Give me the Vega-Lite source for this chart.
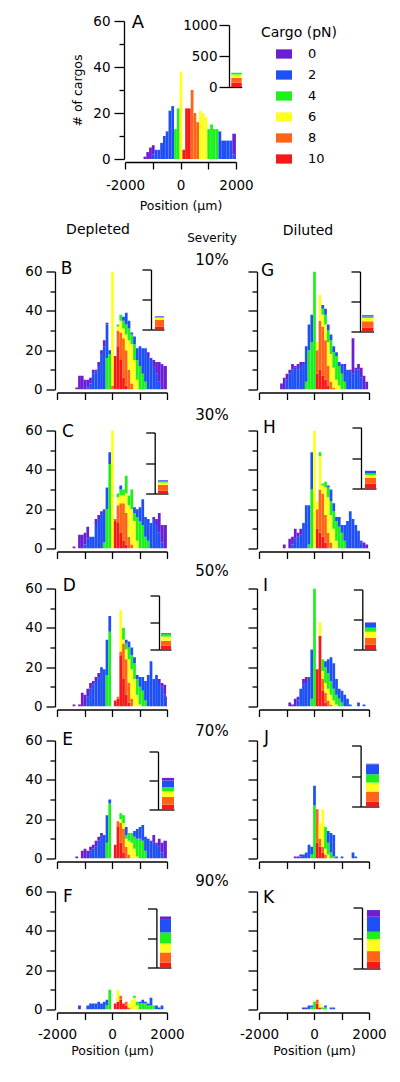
{
"$schema": "https://vega.github.io/schema/vega-lite/v6.json",
"padding": {"left": 24, "top": 14, "right": 0, "bottom": 0},
"config": {
 "font": "DejaVu Sans",
 "view": {"stroke": null},
 "bar": {"binSpacing": 0},
 "axis": {"domainColor": "#000", "tickColor": "#000", "labelColor": "#000", "titleColor": "#000", "labelFont": "DejaVu Sans", "titleFont": "DejaVu Sans", "labelFontSize": 13.5, "titleFontSize": 12.5, "titleFontWeight": "normal", "grid": false, "domainWidth": 1.3, "tickWidth": 1.3, "labelFlush": false, "labelOverlap": false},
 "title": {"font": "DejaVu Sans", "fontWeight": "normal", "color": "#000", "subtitleFont": "DejaVu Sans", "subtitleColor": "#000"},
 "legend": {"titleFont": "DejaVu Sans", "labelFont": "DejaVu Sans"},
 "text": {"font": "DejaVu Sans", "color": "#000"}
},
"datasets": {
 "h": [
{"p":"A","x":-1350,"f":0,"n":1},{"p":"A","x":-1250,"f":0,"n":3},{"p":"A","x":-1150,"f":0,"n":5},{"p":"A","x":-1050,"f":2,"n":2},{"p":"A","x":-1050,"f":0,"n":4},{"p":"A","x":-950,"f":2,"n":4},{"p":"A","x":-850,"f":2,"n":4},{"p":"A","x":-750,"f":2,"n":7},{"p":"A","x":-650,"f":2,"n":10},{"p":"A","x":-550,"f":2,"n":12},{"p":"A","x":-450,"f":2,"n":21},{"p":"A","x":-350,"f":2,"n":23},{"p":"A","x":-250,"f":4,"n":13},{"p":"A","x":-150,"f":4,"n":22},{"p":"A","x":-50,"f":6,"n":38},{"p":"A","x":50,"f":10,"n":4},{"p":"A","x":150,"f":10,"n":22},{"p":"A","x":250,"f":10,"n":22},{"p":"A","x":350,"f":8,"n":30},{"p":"A","x":450,"f":8,"n":20},{"p":"A","x":550,"f":8,"n":16},{"p":"A","x":650,"f":6,"n":21},{"p":"A","x":750,"f":6,"n":20},{"p":"A","x":850,"f":6,"n":18},{"p":"A","x":950,"f":4,"n":13},{"p":"A","x":1050,"f":4,"n":15},{"p":"A","x":1150,"f":4,"n":13},{"p":"A","x":1250,"f":4,"n":13},{"p":"A","x":1350,"f":2,"n":12},{"p":"A","x":1450,"f":2,"n":8},{"p":"A","x":1550,"f":2,"n":8},{"p":"A","x":1650,"f":2,"n":8},{"p":"A","x":1750,"f":2,"n":8},{"p":"A","x":1850,"f":2,"n":2},{"p":"A","x":1850,"f":0,"n":9},{"p":"A","x":1950,"f":0,"n":11},
{"p":"B","x":-1350,"f":0,"n":1},{"p":"B","x":-1250,"f":0,"n":7},{"p":"B","x":-1150,"f":0,"n":7},{"p":"B","x":-1050,"f":0,"n":5},{"p":"B","x":-950,"f":2,"n":1},{"p":"B","x":-950,"f":0,"n":4},{"p":"B","x":-850,"f":2,"n":3},{"p":"B","x":-850,"f":0,"n":3},{"p":"B","x":-750,"f":2,"n":8},{"p":"B","x":-750,"f":0,"n":2},{"p":"B","x":-650,"f":2,"n":9},{"p":"B","x":-650,"f":0,"n":1},{"p":"B","x":-550,"f":2,"n":12},{"p":"B","x":-550,"f":0,"n":2},{"p":"B","x":-450,"f":2,"n":18},{"p":"B","x":-450,"f":0,"n":2},{"p":"B","x":-350,"f":2,"n":22},{"p":"B","x":-350,"f":0,"n":3},{"p":"B","x":-250,"f":4,"n":16},{"p":"B","x":-250,"f":2,"n":17},{"p":"B","x":-250,"f":0,"n":1},{"p":"B","x":-150,"f":4,"n":18},{"p":"B","x":-150,"f":2,"n":2},{"p":"B","x":-50,"f":8,"n":2},{"p":"B","x":-50,"f":6,"n":58},{"p":"B","x":50,"f":10,"n":17},{"p":"B","x":150,"f":10,"n":22},{"p":"B","x":150,"f":8,"n":8},{"p":"B","x":150,"f":6,"n":2},{"p":"B","x":150,"f":4,"n":1},{"p":"B","x":250,"f":10,"n":15},{"p":"B","x":250,"f":8,"n":14},{"p":"B","x":250,"f":6,"n":6},{"p":"B","x":250,"f":4,"n":3},{"p":"B","x":350,"f":10,"n":6},{"p":"B","x":350,"f":8,"n":20},{"p":"B","x":350,"f":6,"n":5},{"p":"B","x":350,"f":4,"n":4},{"p":"B","x":350,"f":2,"n":2},{"p":"B","x":450,"f":10,"n":2},{"p":"B","x":450,"f":8,"n":18},{"p":"B","x":450,"f":6,"n":8},{"p":"B","x":450,"f":4,"n":5},{"p":"B","x":450,"f":2,"n":6},{"p":"B","x":550,"f":8,"n":10},{"p":"B","x":550,"f":6,"n":15},{"p":"B","x":550,"f":4,"n":6},{"p":"B","x":550,"f":2,"n":4},{"p":"B","x":650,"f":8,"n":3},{"p":"B","x":650,"f":6,"n":20},{"p":"B","x":650,"f":4,"n":5},{"p":"B","x":650,"f":2,"n":1},{"p":"B","x":750,"f":6,"n":15},{"p":"B","x":750,"f":4,"n":8},{"p":"B","x":750,"f":2,"n":4},{"p":"B","x":850,"f":6,"n":5},{"p":"B","x":850,"f":4,"n":10},{"p":"B","x":850,"f":2,"n":6},{"p":"B","x":950,"f":4,"n":12},{"p":"B","x":950,"f":2,"n":10},{"p":"B","x":1050,"f":4,"n":8},{"p":"B","x":1050,"f":2,"n":13},{"p":"B","x":1150,"f":4,"n":4},{"p":"B","x":1150,"f":2,"n":17},{"p":"B","x":1250,"f":2,"n":17},{"p":"B","x":1250,"f":0,"n":2},{"p":"B","x":1350,"f":2,"n":15},{"p":"B","x":1350,"f":0,"n":1},{"p":"B","x":1450,"f":2,"n":12},{"p":"B","x":1450,"f":0,"n":3},{"p":"B","x":1550,"f":2,"n":8},{"p":"B","x":1550,"f":0,"n":6},{"p":"B","x":1650,"f":2,"n":4},{"p":"B","x":1650,"f":0,"n":10},{"p":"B","x":1750,"f":0,"n":13},{"p":"B","x":1850,"f":0,"n":12},{"p":"B","x":1950,"f":0,"n":12},
{"p":"G","x":-1250,"f":0,"n":3},{"p":"G","x":-1150,"f":0,"n":6},{"p":"G","x":-1050,"f":2,"n":5},{"p":"G","x":-1050,"f":0,"n":3},{"p":"G","x":-950,"f":2,"n":8},{"p":"G","x":-950,"f":0,"n":2},{"p":"G","x":-850,"f":2,"n":10},{"p":"G","x":-850,"f":0,"n":3},{"p":"G","x":-750,"f":2,"n":11},{"p":"G","x":-750,"f":0,"n":1},{"p":"G","x":-650,"f":2,"n":10},{"p":"G","x":-650,"f":0,"n":3},{"p":"G","x":-550,"f":2,"n":12},{"p":"G","x":-550,"f":0,"n":2},{"p":"G","x":-450,"f":2,"n":13},{"p":"G","x":-450,"f":0,"n":1},{"p":"G","x":-350,"f":4,"n":4},{"p":"G","x":-350,"f":2,"n":18},{"p":"G","x":-250,"f":4,"n":20},{"p":"G","x":-250,"f":2,"n":13},{"p":"G","x":-150,"f":4,"n":24},{"p":"G","x":-150,"f":2,"n":14},{"p":"G","x":-50,"f":4,"n":60},{"p":"G","x":50,"f":10,"n":8},{"p":"G","x":50,"f":8,"n":12},{"p":"G","x":50,"f":6,"n":4},{"p":"G","x":150,"f":10,"n":10},{"p":"G","x":150,"f":8,"n":25},{"p":"G","x":150,"f":6,"n":13},{"p":"G","x":250,"f":10,"n":7},{"p":"G","x":250,"f":8,"n":25},{"p":"G","x":250,"f":6,"n":6},{"p":"G","x":250,"f":4,"n":3},{"p":"G","x":250,"f":2,"n":2},{"p":"G","x":350,"f":10,"n":5},{"p":"G","x":350,"f":8,"n":20},{"p":"G","x":350,"f":6,"n":8},{"p":"G","x":350,"f":4,"n":5},{"p":"G","x":350,"f":2,"n":3},{"p":"G","x":450,"f":10,"n":2},{"p":"G","x":450,"f":8,"n":10},{"p":"G","x":450,"f":6,"n":12},{"p":"G","x":450,"f":4,"n":6},{"p":"G","x":450,"f":2,"n":3},{"p":"G","x":550,"f":8,"n":4},{"p":"G","x":550,"f":6,"n":14},{"p":"G","x":550,"f":4,"n":7},{"p":"G","x":550,"f":2,"n":3},{"p":"G","x":650,"f":8,"n":1},{"p":"G","x":650,"f":6,"n":10},{"p":"G","x":650,"f":4,"n":8},{"p":"G","x":650,"f":2,"n":3},{"p":"G","x":750,"f":6,"n":5},{"p":"G","x":750,"f":4,"n":12},{"p":"G","x":750,"f":2,"n":2},{"p":"G","x":850,"f":6,"n":2},{"p":"G","x":850,"f":4,"n":10},{"p":"G","x":850,"f":2,"n":2},{"p":"G","x":950,"f":4,"n":8},{"p":"G","x":950,"f":2,"n":5},{"p":"G","x":1050,"f":4,"n":4},{"p":"G","x":1050,"f":2,"n":8},{"p":"G","x":1050,"f":0,"n":1},{"p":"G","x":1150,"f":2,"n":10},{"p":"G","x":1250,"f":2,"n":9},{"p":"G","x":1250,"f":0,"n":1},{"p":"G","x":1350,"f":2,"n":8},{"p":"G","x":1350,"f":0,"n":18},{"p":"G","x":1450,"f":2,"n":10},{"p":"G","x":1450,"f":0,"n":1},{"p":"G","x":1550,"f":2,"n":10},{"p":"G","x":1550,"f":0,"n":3},{"p":"G","x":1650,"f":2,"n":6},{"p":"G","x":1650,"f":0,"n":5},{"p":"G","x":1750,"f":0,"n":7},{"p":"G","x":1850,"f":0,"n":4},
{"p":"C","x":-1450,"f":0,"n":1},{"p":"C","x":-1250,"f":0,"n":7},{"p":"C","x":-1150,"f":0,"n":7},{"p":"C","x":-1050,"f":2,"n":2},{"p":"C","x":-1050,"f":0,"n":6},{"p":"C","x":-950,"f":2,"n":5},{"p":"C","x":-950,"f":0,"n":6},{"p":"C","x":-850,"f":2,"n":6},{"p":"C","x":-750,"f":2,"n":6},{"p":"C","x":-650,"f":2,"n":12},{"p":"C","x":-650,"f":0,"n":3},{"p":"C","x":-550,"f":2,"n":15},{"p":"C","x":-550,"f":0,"n":2},{"p":"C","x":-450,"f":2,"n":18},{"p":"C","x":-450,"f":0,"n":1},{"p":"C","x":-350,"f":4,"n":3},{"p":"C","x":-350,"f":2,"n":17},{"p":"C","x":-250,"f":4,"n":20},{"p":"C","x":-250,"f":2,"n":11},{"p":"C","x":-150,"f":4,"n":43},{"p":"C","x":-150,"f":2,"n":6},{"p":"C","x":-50,"f":6,"n":60},{"p":"C","x":50,"f":10,"n":14},{"p":"C","x":50,"f":8,"n":1},{"p":"C","x":150,"f":10,"n":13},{"p":"C","x":150,"f":8,"n":9},{"p":"C","x":150,"f":6,"n":4},{"p":"C","x":150,"f":4,"n":2},{"p":"C","x":250,"f":10,"n":8},{"p":"C","x":250,"f":8,"n":15},{"p":"C","x":250,"f":6,"n":4},{"p":"C","x":250,"f":4,"n":3},{"p":"C","x":250,"f":2,"n":2},{"p":"C","x":350,"f":10,"n":4},{"p":"C","x":350,"f":8,"n":19},{"p":"C","x":350,"f":6,"n":4},{"p":"C","x":350,"f":4,"n":3},{"p":"C","x":450,"f":10,"n":2},{"p":"C","x":450,"f":8,"n":16},{"p":"C","x":450,"f":6,"n":10},{"p":"C","x":450,"f":4,"n":9},{"p":"C","x":550,"f":8,"n":6},{"p":"C","x":550,"f":6,"n":16},{"p":"C","x":550,"f":4,"n":5},{"p":"C","x":650,"f":8,"n":2},{"p":"C","x":650,"f":6,"n":18},{"p":"C","x":650,"f":4,"n":10},{"p":"C","x":750,"f":6,"n":14},{"p":"C","x":750,"f":4,"n":4},{"p":"C","x":750,"f":2,"n":3},{"p":"C","x":850,"f":6,"n":4},{"p":"C","x":850,"f":4,"n":12},{"p":"C","x":850,"f":2,"n":4},{"p":"C","x":950,"f":4,"n":14},{"p":"C","x":950,"f":2,"n":7},{"p":"C","x":1050,"f":4,"n":12},{"p":"C","x":1050,"f":2,"n":13},{"p":"C","x":1150,"f":4,"n":6},{"p":"C","x":1150,"f":2,"n":10},{"p":"C","x":1250,"f":4,"n":4},{"p":"C","x":1250,"f":2,"n":11},{"p":"C","x":1350,"f":2,"n":13},{"p":"C","x":1450,"f":2,"n":15},{"p":"C","x":1450,"f":0,"n":1},{"p":"C","x":1550,"f":2,"n":12},{"p":"C","x":1550,"f":0,"n":3},{"p":"C","x":1650,"f":2,"n":8},{"p":"C","x":1650,"f":0,"n":10},{"p":"C","x":1750,"f":2,"n":3},{"p":"C","x":1750,"f":0,"n":9},{"p":"C","x":1850,"f":0,"n":12},{"p":"C","x":1950,"f":0,"n":12},
{"p":"H","x":-1150,"f":0,"n":2},{"p":"H","x":-950,"f":0,"n":5},{"p":"H","x":-850,"f":2,"n":2},{"p":"H","x":-850,"f":0,"n":4},{"p":"H","x":-750,"f":2,"n":5},{"p":"H","x":-750,"f":0,"n":5},{"p":"H","x":-650,"f":2,"n":6},{"p":"H","x":-650,"f":0,"n":2},{"p":"H","x":-550,"f":2,"n":7},{"p":"H","x":-550,"f":0,"n":3},{"p":"H","x":-450,"f":2,"n":13},{"p":"H","x":-350,"f":2,"n":22},{"p":"H","x":-250,"f":4,"n":2},{"p":"H","x":-250,"f":2,"n":20},{"p":"H","x":-150,"f":4,"n":30},{"p":"H","x":-150,"f":2,"n":19},{"p":"H","x":-50,"f":6,"n":60},{"p":"H","x":50,"f":10,"n":10},{"p":"H","x":50,"f":8,"n":10},{"p":"H","x":50,"f":6,"n":4},{"p":"H","x":150,"f":10,"n":8},{"p":"H","x":150,"f":8,"n":22},{"p":"H","x":150,"f":6,"n":17},{"p":"H","x":150,"f":4,"n":2},{"p":"H","x":250,"f":10,"n":6},{"p":"H","x":250,"f":8,"n":22},{"p":"H","x":250,"f":6,"n":4},{"p":"H","x":250,"f":4,"n":1},{"p":"H","x":350,"f":10,"n":3},{"p":"H","x":350,"f":8,"n":14},{"p":"H","x":350,"f":6,"n":14},{"p":"H","x":350,"f":4,"n":3},{"p":"H","x":450,"f":8,"n":8},{"p":"H","x":450,"f":6,"n":18},{"p":"H","x":450,"f":4,"n":5},{"p":"H","x":450,"f":2,"n":1},{"p":"H","x":550,"f":8,"n":3},{"p":"H","x":550,"f":6,"n":14},{"p":"H","x":550,"f":4,"n":7},{"p":"H","x":550,"f":2,"n":6},{"p":"H","x":650,"f":6,"n":10},{"p":"H","x":650,"f":4,"n":9},{"p":"H","x":650,"f":2,"n":4},{"p":"H","x":750,"f":6,"n":4},{"p":"H","x":750,"f":4,"n":10},{"p":"H","x":750,"f":2,"n":2},{"p":"H","x":850,"f":4,"n":11},{"p":"H","x":850,"f":2,"n":5},{"p":"H","x":950,"f":4,"n":8},{"p":"H","x":950,"f":2,"n":4},{"p":"H","x":1050,"f":4,"n":4},{"p":"H","x":1050,"f":2,"n":8},{"p":"H","x":1150,"f":2,"n":14},{"p":"H","x":1250,"f":2,"n":19},{"p":"H","x":1350,"f":2,"n":15},{"p":"H","x":1450,"f":2,"n":12},{"p":"H","x":1550,"f":2,"n":9},{"p":"H","x":1650,"f":2,"n":3},{"p":"H","x":1650,"f":0,"n":1},{"p":"H","x":1750,"f":0,"n":3},{"p":"H","x":1850,"f":0,"n":2},
{"p":"D","x":-1450,"f":0,"n":1},{"p":"D","x":-1250,"f":0,"n":1},{"p":"D","x":-1150,"f":0,"n":7},{"p":"D","x":-1050,"f":0,"n":6},{"p":"D","x":-950,"f":2,"n":5},{"p":"D","x":-950,"f":0,"n":4},{"p":"D","x":-850,"f":2,"n":9},{"p":"D","x":-850,"f":0,"n":3},{"p":"D","x":-750,"f":2,"n":11},{"p":"D","x":-750,"f":0,"n":2},{"p":"D","x":-650,"f":2,"n":13},{"p":"D","x":-650,"f":0,"n":2},{"p":"D","x":-550,"f":2,"n":15},{"p":"D","x":-550,"f":0,"n":2},{"p":"D","x":-450,"f":2,"n":20},{"p":"D","x":-350,"f":2,"n":19},{"p":"D","x":-250,"f":4,"n":16},{"p":"D","x":-250,"f":2,"n":18},{"p":"D","x":-150,"f":4,"n":38},{"p":"D","x":-150,"f":2,"n":8},{"p":"D","x":50,"f":10,"n":3},{"p":"D","x":150,"f":10,"n":4},{"p":"D","x":150,"f":8,"n":1},{"p":"D","x":250,"f":10,"n":26},{"p":"D","x":250,"f":8,"n":2},{"p":"D","x":250,"f":6,"n":21},{"p":"D","x":350,"f":10,"n":14},{"p":"D","x":350,"f":8,"n":18},{"p":"D","x":350,"f":6,"n":2},{"p":"D","x":350,"f":4,"n":6},{"p":"D","x":450,"f":10,"n":6},{"p":"D","x":450,"f":8,"n":18},{"p":"D","x":450,"f":6,"n":5},{"p":"D","x":450,"f":4,"n":3},{"p":"D","x":450,"f":2,"n":2},{"p":"D","x":550,"f":10,"n":2},{"p":"D","x":550,"f":8,"n":10},{"p":"D","x":550,"f":6,"n":12},{"p":"D","x":550,"f":4,"n":6},{"p":"D","x":550,"f":2,"n":3},{"p":"D","x":650,"f":8,"n":4},{"p":"D","x":650,"f":6,"n":15},{"p":"D","x":650,"f":4,"n":7},{"p":"D","x":650,"f":2,"n":4},{"p":"D","x":750,"f":6,"n":14},{"p":"D","x":750,"f":4,"n":8},{"p":"D","x":750,"f":2,"n":3},{"p":"D","x":850,"f":6,"n":6},{"p":"D","x":850,"f":4,"n":8},{"p":"D","x":850,"f":2,"n":2},{"p":"D","x":950,"f":6,"n":1},{"p":"D","x":950,"f":4,"n":9},{"p":"D","x":950,"f":2,"n":5},{"p":"D","x":1050,"f":4,"n":8},{"p":"D","x":1050,"f":2,"n":7},{"p":"D","x":1150,"f":4,"n":3},{"p":"D","x":1150,"f":2,"n":10},{"p":"D","x":1250,"f":2,"n":16},{"p":"D","x":1350,"f":2,"n":23},{"p":"D","x":1450,"f":2,"n":14},{"p":"D","x":1550,"f":2,"n":16},{"p":"D","x":1650,"f":2,"n":12},{"p":"D","x":1650,"f":0,"n":2},{"p":"D","x":1750,"f":2,"n":10},{"p":"D","x":1750,"f":0,"n":2},{"p":"D","x":1850,"f":2,"n":6},{"p":"D","x":1850,"f":0,"n":5},{"p":"D","x":1950,"f":0,"n":5},
{"p":"I","x":-950,"f":0,"n":2},{"p":"I","x":-850,"f":0,"n":1},{"p":"I","x":-750,"f":0,"n":4},{"p":"I","x":-650,"f":2,"n":3},{"p":"I","x":-650,"f":0,"n":2},{"p":"I","x":-550,"f":2,"n":9},{"p":"I","x":-450,"f":2,"n":11},{"p":"I","x":-450,"f":0,"n":3},{"p":"I","x":-350,"f":2,"n":12},{"p":"I","x":-350,"f":0,"n":3},{"p":"I","x":-250,"f":2,"n":15},{"p":"I","x":-150,"f":4,"n":4},{"p":"I","x":-150,"f":2,"n":25},{"p":"I","x":-50,"f":4,"n":60},{"p":"I","x":50,"f":10,"n":19},{"p":"I","x":150,"f":10,"n":36},{"p":"I","x":150,"f":6,"n":7},{"p":"I","x":250,"f":10,"n":8},{"p":"I","x":250,"f":8,"n":6},{"p":"I","x":250,"f":6,"n":4},{"p":"I","x":250,"f":4,"n":6},{"p":"I","x":350,"f":10,"n":2},{"p":"I","x":350,"f":8,"n":5},{"p":"I","x":350,"f":6,"n":5},{"p":"I","x":350,"f":4,"n":8},{"p":"I","x":350,"f":2,"n":3},{"p":"I","x":450,"f":8,"n":3},{"p":"I","x":450,"f":6,"n":6},{"p":"I","x":450,"f":4,"n":8},{"p":"I","x":450,"f":2,"n":7},{"p":"I","x":550,"f":8,"n":1},{"p":"I","x":550,"f":6,"n":5},{"p":"I","x":550,"f":4,"n":7},{"p":"I","x":550,"f":2,"n":12},{"p":"I","x":650,"f":6,"n":3},{"p":"I","x":650,"f":4,"n":6},{"p":"I","x":650,"f":2,"n":13},{"p":"I","x":750,"f":6,"n":1},{"p":"I","x":750,"f":4,"n":5},{"p":"I","x":750,"f":2,"n":8},{"p":"I","x":850,"f":4,"n":4},{"p":"I","x":850,"f":2,"n":5},{"p":"I","x":950,"f":4,"n":2},{"p":"I","x":950,"f":2,"n":6},{"p":"I","x":1050,"f":2,"n":6},{"p":"I","x":1150,"f":2,"n":4},{"p":"I","x":1250,"f":2,"n":1},{"p":"I","x":1550,"f":2,"n":2},{"p":"I","x":1750,"f":2,"n":1},
{"p":"E","x":-1350,"f":0,"n":1},{"p":"E","x":-1150,"f":0,"n":4},{"p":"E","x":-1050,"f":0,"n":5},{"p":"E","x":-950,"f":0,"n":4},{"p":"E","x":-850,"f":2,"n":4},{"p":"E","x":-850,"f":0,"n":2},{"p":"E","x":-750,"f":2,"n":5},{"p":"E","x":-750,"f":0,"n":2},{"p":"E","x":-650,"f":2,"n":6},{"p":"E","x":-650,"f":0,"n":3},{"p":"E","x":-550,"f":2,"n":9},{"p":"E","x":-550,"f":0,"n":2},{"p":"E","x":-450,"f":2,"n":12},{"p":"E","x":-450,"f":0,"n":1},{"p":"E","x":-350,"f":2,"n":12},{"p":"E","x":-250,"f":4,"n":8},{"p":"E","x":-250,"f":2,"n":14},{"p":"E","x":-150,"f":4,"n":28},{"p":"E","x":-150,"f":2,"n":2},{"p":"E","x":50,"f":10,"n":7},{"p":"E","x":150,"f":10,"n":16},{"p":"E","x":150,"f":8,"n":3},{"p":"E","x":250,"f":10,"n":8},{"p":"E","x":250,"f":8,"n":10},{"p":"E","x":250,"f":6,"n":2},{"p":"E","x":250,"f":4,"n":3},{"p":"E","x":350,"f":10,"n":3},{"p":"E","x":350,"f":8,"n":12},{"p":"E","x":350,"f":6,"n":3},{"p":"E","x":350,"f":4,"n":4},{"p":"E","x":450,"f":8,"n":6},{"p":"E","x":450,"f":6,"n":4},{"p":"E","x":450,"f":4,"n":2},{"p":"E","x":450,"f":2,"n":4},{"p":"E","x":550,"f":8,"n":2},{"p":"E","x":550,"f":6,"n":7},{"p":"E","x":550,"f":4,"n":4},{"p":"E","x":650,"f":6,"n":8},{"p":"E","x":650,"f":4,"n":5},{"p":"E","x":750,"f":6,"n":5},{"p":"E","x":750,"f":4,"n":6},{"p":"E","x":750,"f":2,"n":3},{"p":"E","x":850,"f":6,"n":1},{"p":"E","x":850,"f":4,"n":9},{"p":"E","x":850,"f":2,"n":5},{"p":"E","x":950,"f":4,"n":10},{"p":"E","x":950,"f":2,"n":6},{"p":"E","x":1050,"f":4,"n":9},{"p":"E","x":1050,"f":2,"n":8},{"p":"E","x":1150,"f":4,"n":4},{"p":"E","x":1150,"f":2,"n":7},{"p":"E","x":1250,"f":2,"n":10},{"p":"E","x":1350,"f":2,"n":9},{"p":"E","x":1450,"f":2,"n":8},{"p":"E","x":1450,"f":0,"n":4},{"p":"E","x":1550,"f":2,"n":7},{"p":"E","x":1550,"f":0,"n":1},{"p":"E","x":1650,"f":2,"n":6},{"p":"E","x":1650,"f":0,"n":4},{"p":"E","x":1750,"f":2,"n":3},{"p":"E","x":1750,"f":0,"n":5},{"p":"E","x":1850,"f":0,"n":9},{"p":"E","x":1950,"f":0,"n":9},
{"p":"J","x":-750,"f":0,"n":1},{"p":"J","x":-650,"f":0,"n":1},{"p":"J","x":-550,"f":2,"n":1},{"p":"J","x":-550,"f":0,"n":1},{"p":"J","x":-450,"f":2,"n":2},{"p":"J","x":-350,"f":2,"n":3},{"p":"J","x":-250,"f":2,"n":7},{"p":"J","x":-150,"f":4,"n":2},{"p":"J","x":-150,"f":2,"n":4},{"p":"J","x":-50,"f":4,"n":27},{"p":"J","x":-50,"f":2,"n":10},{"p":"J","x":50,"f":10,"n":8},{"p":"J","x":50,"f":8,"n":17},{"p":"J","x":150,"f":10,"n":6},{"p":"J","x":150,"f":8,"n":4},{"p":"J","x":150,"f":6,"n":8},{"p":"J","x":250,"f":10,"n":3},{"p":"J","x":250,"f":8,"n":3},{"p":"J","x":250,"f":6,"n":19},{"p":"J","x":350,"f":8,"n":2},{"p":"J","x":350,"f":6,"n":3},{"p":"J","x":350,"f":4,"n":11},{"p":"J","x":450,"f":6,"n":2},{"p":"J","x":450,"f":4,"n":6},{"p":"J","x":450,"f":2,"n":6},{"p":"J","x":550,"f":4,"n":3},{"p":"J","x":550,"f":2,"n":10},{"p":"J","x":650,"f":4,"n":1},{"p":"J","x":650,"f":2,"n":11},{"p":"J","x":750,"f":2,"n":1},{"p":"J","x":950,"f":2,"n":1},{"p":"J","x":1350,"f":2,"n":3},{"p":"J","x":1450,"f":2,"n":1},
{"p":"F","x":-1250,"f":0,"n":2},{"p":"F","x":-950,"f":2,"n":2},{"p":"F","x":-850,"f":2,"n":3},{"p":"F","x":-750,"f":2,"n":3},{"p":"F","x":-650,"f":2,"n":3},{"p":"F","x":-550,"f":2,"n":4},{"p":"F","x":-450,"f":2,"n":3},{"p":"F","x":-350,"f":2,"n":4},{"p":"F","x":-250,"f":4,"n":2},{"p":"F","x":-250,"f":2,"n":3},{"p":"F","x":-150,"f":4,"n":10},{"p":"F","x":50,"f":10,"n":3},{"p":"F","x":150,"f":10,"n":4},{"p":"F","x":150,"f":6,"n":6},{"p":"F","x":250,"f":10,"n":5},{"p":"F","x":250,"f":8,"n":2},{"p":"F","x":350,"f":10,"n":3},{"p":"F","x":450,"f":10,"n":2},{"p":"F","x":450,"f":8,"n":2},{"p":"F","x":550,"f":8,"n":1},{"p":"F","x":550,"f":6,"n":2},{"p":"F","x":650,"f":6,"n":5},{"p":"F","x":750,"f":6,"n":6},{"p":"F","x":750,"f":4,"n":1},{"p":"F","x":850,"f":6,"n":2},{"p":"F","x":850,"f":4,"n":2},{"p":"F","x":950,"f":4,"n":3},{"p":"F","x":950,"f":2,"n":1},{"p":"F","x":1050,"f":4,"n":3},{"p":"F","x":1050,"f":2,"n":2},{"p":"F","x":1150,"f":4,"n":3},{"p":"F","x":1150,"f":2,"n":1},{"p":"F","x":1250,"f":4,"n":2},{"p":"F","x":1250,"f":2,"n":1},{"p":"F","x":1350,"f":4,"n":2},{"p":"F","x":1350,"f":2,"n":4},{"p":"F","x":1450,"f":4,"n":2},{"p":"F","x":1550,"f":2,"n":2},{"p":"F","x":1650,"f":2,"n":1},{"p":"F","x":1750,"f":2,"n":2},
{"p":"K","x":-450,"f":0,"n":1},{"p":"K","x":-350,"f":2,"n":1},{"p":"K","x":-250,"f":2,"n":2},{"p":"K","x":-150,"f":4,"n":1},{"p":"K","x":-150,"f":2,"n":1},{"p":"K","x":-50,"f":4,"n":4},{"p":"K","x":50,"f":10,"n":3},{"p":"K","x":50,"f":8,"n":2},{"p":"K","x":150,"f":10,"n":1},{"p":"K","x":150,"f":6,"n":2},{"p":"K","x":250,"f":4,"n":1},{"p":"K","x":350,"f":4,"n":1},{"p":"K","x":350,"f":2,"n":1},{"p":"K","x":550,"f":2,"n":1},{"p":"K","x":650,"f":2,"n":1}
 ],
 "t": [
{"p":"A","f":10,"n":70},{"p":"A","f":8,"n":80},{"p":"A","f":6,"n":50},{"p":"A","f":4,"n":30},
{"p":"B","f":10,"n":45},{"p":"B","f":8,"n":120},{"p":"B","f":6,"n":30},{"p":"B","f":4,"n":15},{"p":"B","f":2,"n":10},{"p":"B","f":0,"n":3},
{"p":"G","f":10,"n":60},{"p":"G","f":8,"n":110},{"p":"G","f":6,"n":55},{"p":"G","f":4,"n":25},{"p":"G","f":2,"n":20},{"p":"G","f":0,"n":5},
{"p":"C","f":10,"n":45},{"p":"C","f":8,"n":95},{"p":"C","f":6,"n":40},{"p":"C","f":4,"n":25},{"p":"C","f":2,"n":10},{"p":"C","f":0,"n":5},
{"p":"H","f":10,"n":80},{"p":"H","f":8,"n":100},{"p":"H","f":6,"n":40},{"p":"H","f":4,"n":27},{"p":"H","f":2,"n":40},{"p":"H","f":0,"n":3},
{"p":"D","f":10,"n":75},{"p":"D","f":8,"n":85},{"p":"D","f":6,"n":80},{"p":"D","f":4,"n":45},{"p":"D","f":2,"n":15},{"p":"D","f":0,"n":5},
{"p":"I","f":10,"n":84},{"p":"I","f":8,"n":112},{"p":"I","f":6,"n":100},{"p":"I","f":4,"n":67},{"p":"I","f":2,"n":84},{"p":"I","f":0,"n":5},
{"p":"E","f":10,"n":85},{"p":"E","f":8,"n":130},{"p":"E","f":6,"n":97},{"p":"E","f":4,"n":74},{"p":"E","f":2,"n":114},{"p":"E","f":0,"n":45},
{"p":"J","f":10,"n":82},{"p":"J","f":8,"n":163},{"p":"J","f":6,"n":147},{"p":"J","f":4,"n":136},{"p":"J","f":2,"n":163},{"p":"J","f":0,"n":10},
{"p":"F","f":10,"n":85},{"p":"F","f":8,"n":170},{"p":"F","f":6,"n":153},{"p":"F","f":4,"n":186},{"p":"F","f":2,"n":227},{"p":"F","f":0,"n":44},
{"p":"K","f":10,"n":110},{"p":"K","f":8,"n":175},{"p":"K","f":6,"n":197},{"p":"K","f":4,"n":120},{"p":"K","f":2,"n":246},{"p":"K","f":0,"n":110}
 ]
},
"resolve": {"scale": {"color": "independent"}, "legend": {"color": "independent"}},
"spacing": 10.5,
"vconcat": [
 {"hconcat": [
  {"width": 14, "height": 10, "data": {"values": []}, "mark": "point"},
  {"width": 111, "height": 138,
   "layer": [
    {"data": {"name": "h"}, "transform": [{"filter": "datum.p == 'A'"}], "mark": {"type": "bar", "clip": true},
     "encoding": {
      "x": {"field": "x", "type": "quantitative", "bin": {"binned": true, "step": 100}, "scale": {"domain": [-2000, 2000], "nice": false, "zero": false}, "axis": {"orient": "bottom", "offset": 3, "values": [-2000, -1000, 0, 1000, 2000], "tickSize": 7, "labelPadding": 9, "labelExpr": "datum.value % 2000 == 0 ? '' + datum.value : ''", "title": "Position (µm)", "titlePadding": 8}},
      "y": {"field": "n", "type": "quantitative", "stack": "zero", "scale": {"domain": [0, 60], "nice": false}, "axis": {"orient": "left", "offset": 1, "values": [0, 10, 20, 30, 40, 50, 60], "tickSize": {"condition": {"test": "datum.value % 20 == 0", "value": 10}, "value": 5}, "labelPadding": 4, "labelExpr": "datum.value % 20 == 0 ? datum.label : ''", "title": "# of cargos", "titlePadding": 8}},
      "color": {"field": "f", "type": "nominal", "scale": {"domain": [0, 2, 4, 6, 8, 10], "range": ["#6B1ED2", "#1E50F5", "#1EF01E", "#FFFF1E", "#FF6419", "#F51919"]},
       "legend": {"title": "Cargo (pN)", "orient": "none", "legendX": 136, "legendY": 5, "titleFontSize": 14, "titleFontWeight": "normal", "titleColor": "#000", "titlePadding": 6, "labelFontSize": 13, "labelColor": "#000", "labelOffset": 16, "symbolType": "M-1,-0.58H1V0.58H-1Z", "symbolSize": 256, "symbolOffset": 15, "symbolStrokeWidth": 0, "rowPadding": 6}},
      "order": {"field": "f", "type": "quantitative", "sort": "descending"}
     }},
    {"data": {"values": [{"t": "A"}]}, "mark": {"type": "text", "align": "left", "baseline": "alphabetic", "fontSize": 18},
     "encoding": {"text": {"field": "t"}, "x": {"datum": -1760, "type": "quantitative", "scale": {"domain": [-2000, 2000]}, "axis": null}, "y": {"datum": 56.8, "type": "quantitative", "scale": {"domain": [0, 60]}, "axis": null}}},
    {"data": {"name": "t"}, "transform": [{"filter": "datum.p == 'A'"}], "mark": "bar",
     "encoding": {
      "x": {"field": "p", "type": "nominal", "scale": {"range": [104, 116.7], "paddingInner": 0, "paddingOuter": 0.11, "align": 1}, "axis": {"orient": "bottom", "offset": -72, "ticks": false, "labels": false, "title": null}},
      "y": {"field": "n", "type": "quantitative", "stack": "zero", "scale": {"domain": [0, 1000], "range": [66, 4], "nice": false}, "axis": {"orient": "left", "offset": -104, "values": [0, 500, 1000], "tickSize": 10, "labelPadding": 2, "format": "d", "title": null}},
      "color": {"field": "f", "type": "nominal", "scale": {"domain": [0, 2, 4, 6, 8, 10], "range": ["#6B1ED2", "#1E50F5", "#1EF01E", "#FFFF1E", "#FF6419", "#F51919"]}, "legend": null},
      "order": {"field": "f", "type": "quantitative", "sort": "descending"}
     }}
   ],
   "resolve": {"scale": {"x": "independent", "y": "independent"}}
  }
 ], "spacing": 0, "resolve": {"legend": {"color": "independent"}}},
 {"columns": 3, "spacing": {"row": 0, "column": 0}, "align": "each",
  "concat": [
   {"width": 110, "height": 118, "title": {"text": "Depleted", "fontSize": 14, "dx": -14, "offset": 23.5, "anchor": "middle"},
    "layer": [
     {"data": {"name": "h"}, "transform": [{"filter": "datum.p == 'B'"}], "mark": {"type": "bar", "clip": true},
      "encoding": {"x": {"field": "x", "type": "quantitative", "bin": {"binned": true, "step": 100}, "scale": {"domain": [-2000, 2000], "nice": false, "zero": false}, "axis": {"orient": "bottom", "offset": 3, "values": [-2000, -1000, 0, 1000, 2000], "tickSize": 7, "labels": false, "title": null}},
       "y": {"field": "n", "type": "quantitative", "stack": "zero", "scale": {"domain": [0, 60], "nice": false}, "axis": {"orient": "left", "offset": 2, "values": [0, 10, 20, 30, 40, 50, 60], "tickSize": {"condition": {"test": "datum.value % 20 == 0", "value": 9}, "value": 5}, "labelPadding": 4, "labelExpr": "datum.value % 20 == 0 ? datum.label : ''", "title": null}},
       "color": {"field": "f", "type": "nominal", "scale": {"domain": [0, 2, 4, 6, 8, 10], "range": ["#6B1ED2", "#1E50F5", "#1EF01E", "#FFFF1E", "#FF6419", "#F51919"]}, "legend": null},
       "order": {"field": "f", "type": "quantitative", "sort": "descending"}}},
     {"data": {"values": [{"t": "B"}]}, "mark": {"type": "text", "align": "left", "baseline": "alphabetic", "fontSize": 17},
      "encoding": {"text": {"field": "t"}, "x": {"datum": -1865, "type": "quantitative", "scale": {"domain": [-2000, 2000]}, "axis": null}, "y": {"datum": 58.7, "type": "quantitative", "scale": {"domain": [0, 60]}, "axis": null}}},
     {"data": {"name": "t"}, "transform": [{"filter": "datum.p == 'B'"}], "mark": "bar",
      "encoding": {"x": {"field": "p", "type": "nominal", "scale": {"range": [94, 107], "paddingInner": 0, "paddingOuter": 0.22, "align": 1}, "axis": {"orient": "bottom", "offset": -60, "ticks": false, "labels": false, "title": null}},
       "y": {"field": "n", "type": "quantitative", "stack": "zero", "scale": {"domain": [0, 1000], "range": [58, -2], "nice": false}, "axis": {"orient": "left", "offset": -94, "values": [0, 500, 1000], "tickSize": 9, "labels": false, "title": null}},
       "color": {"field": "f", "type": "nominal", "scale": {"domain": [0, 2, 4, 6, 8, 10], "range": ["#6B1ED2", "#1E50F5", "#1EF01E", "#FFFF1E", "#FF6419", "#F51919"]}, "legend": null},
       "order": {"field": "f", "type": "quantitative", "sort": "descending"}}}
    ],
    "resolve": {"scale": {"x": "independent", "y": "independent"}}},
   {"width": 54, "height": 135.5, "data": {"values": []}, "mark": "point", "title": {"text": "Severity", "subtitle": "10%", "fontSize": 12, "subtitleFontSize": 15, "subtitlePadding": 8, "offset": 2.7, "anchor": "middle"}},
   {"width": 110, "height": 118, "title": {"text": "Diluted", "fontSize": 14, "dx": -6, "offset": 23.5, "anchor": "middle"},
    "layer": [
     {"data": {"name": "h"}, "transform": [{"filter": "datum.p == 'G'"}], "mark": {"type": "bar", "clip": true},
      "encoding": {"x": {"field": "x", "type": "quantitative", "bin": {"binned": true, "step": 100}, "scale": {"domain": [-2000, 2000], "nice": false, "zero": false}, "axis": {"orient": "bottom", "offset": 3, "values": [-2000, -1000, 0, 1000, 2000], "tickSize": 7, "labels": false, "title": null}},
       "y": {"field": "n", "type": "quantitative", "stack": "zero", "scale": {"domain": [0, 60], "nice": false}, "axis": {"orient": "left", "offset": 2, "values": [0, 10, 20, 30, 40, 50, 60], "tickSize": {"condition": {"test": "datum.value % 20 == 0", "value": 9}, "value": 5}, "labels": false, "title": null}},
       "color": {"field": "f", "type": "nominal", "scale": {"domain": [0, 2, 4, 6, 8, 10], "range": ["#6B1ED2", "#1E50F5", "#1EF01E", "#FFFF1E", "#FF6419", "#F51919"]}, "legend": null},
       "order": {"field": "f", "type": "quantitative", "sort": "descending"}}},
     {"data": {"values": [{"t": "G"}]}, "mark": {"type": "text", "align": "left", "baseline": "alphabetic", "fontSize": 17},
      "encoding": {"text": {"field": "t"}, "x": {"datum": -1930, "type": "quantitative", "scale": {"domain": [-2000, 2000]}, "axis": null}, "y": {"datum": 57.8, "type": "quantitative", "scale": {"domain": [0, 60]}, "axis": null}}},
     {"data": {"name": "t"}, "transform": [{"filter": "datum.p == 'G'"}], "mark": "bar",
      "encoding": {"x": {"field": "p", "type": "nominal", "scale": {"range": [101, 114.5], "paddingInner": 0, "paddingOuter": 0.087, "align": 1}, "axis": {"orient": "bottom", "offset": -58, "ticks": false, "labels": false, "title": null}},
       "y": {"field": "n", "type": "quantitative", "stack": "zero", "scale": {"domain": [0, 1000], "range": [60, 0], "nice": false}, "axis": {"orient": "left", "offset": -101, "values": [0, 500, 1000], "tickSize": 9, "labels": false, "title": null}},
       "color": {"field": "f", "type": "nominal", "scale": {"domain": [0, 2, 4, 6, 8, 10], "range": ["#6B1ED2", "#1E50F5", "#1EF01E", "#FFFF1E", "#FF6419", "#F51919"]}, "legend": null},
       "order": {"field": "f", "type": "quantitative", "sort": "descending"}}}
    ],
    "resolve": {"scale": {"x": "independent", "y": "independent"}}},

   {"width": 110, "height": 118,
    "layer": [
     {"data": {"name": "h"}, "transform": [{"filter": "datum.p == 'C'"}], "mark": {"type": "bar", "clip": true},
      "encoding": {"x": {"field": "x", "type": "quantitative", "bin": {"binned": true, "step": 100}, "scale": {"domain": [-2000, 2000], "nice": false, "zero": false}, "axis": {"orient": "bottom", "offset": 3, "values": [-2000, -1000, 0, 1000, 2000], "tickSize": 7, "labels": false, "title": null}},
       "y": {"field": "n", "type": "quantitative", "stack": "zero", "scale": {"domain": [0, 60], "nice": false}, "axis": {"orient": "left", "offset": 2, "values": [0, 10, 20, 30, 40, 50, 60], "tickSize": {"condition": {"test": "datum.value % 20 == 0", "value": 9}, "value": 5}, "labelPadding": 4, "labelExpr": "datum.value % 20 == 0 ? datum.label : ''", "title": null}},
       "color": {"field": "f", "type": "nominal", "scale": {"domain": [0, 2, 4, 6, 8, 10], "range": ["#6B1ED2", "#1E50F5", "#1EF01E", "#FFFF1E", "#FF6419", "#F51919"]}, "legend": null},
       "order": {"field": "f", "type": "quantitative", "sort": "descending"}}},
     {"data": {"values": [{"t": "C"}]}, "mark": {"type": "text", "align": "left", "baseline": "alphabetic", "fontSize": 17},
      "encoding": {"text": {"field": "t"}, "x": {"datum": -1820, "type": "quantitative", "scale": {"domain": [-2000, 2000]}, "axis": null}, "y": {"datum": 56.5, "type": "quantitative", "scale": {"domain": [0, 60]}, "axis": null}}},
     {"data": {"name": "t"}, "transform": [{"filter": "datum.p == 'C'"}], "mark": "bar",
      "encoding": {"x": {"field": "p", "type": "nominal", "scale": {"range": [97.7, 111], "paddingInner": 0, "paddingOuter": 0.165, "align": 1}, "axis": {"orient": "bottom", "offset": -55, "ticks": false, "labels": false, "title": null}},
       "y": {"field": "n", "type": "quantitative", "stack": "zero", "scale": {"domain": [0, 1000], "range": [63, 2], "nice": false}, "axis": {"orient": "left", "offset": -97.7, "values": [0, 500, 1000], "tickSize": 9, "labels": false, "title": null}},
       "color": {"field": "f", "type": "nominal", "scale": {"domain": [0, 2, 4, 6, 8, 10], "range": ["#6B1ED2", "#1E50F5", "#1EF01E", "#FFFF1E", "#FF6419", "#F51919"]}, "legend": null},
       "order": {"field": "f", "type": "quantitative", "sort": "descending"}}}
    ],
    "resolve": {"scale": {"x": "independent", "y": "independent"}}},
   {"width": 54, "height": 132.7, "data": {"values": []}, "mark": "point", "title": {"text": "30%", "fontSize": 15, "offset": 7.5, "anchor": "middle"}},
   {"width": 110, "height": 118,
    "layer": [
     {"data": {"name": "h"}, "transform": [{"filter": "datum.p == 'H'"}], "mark": {"type": "bar", "clip": true},
      "encoding": {"x": {"field": "x", "type": "quantitative", "bin": {"binned": true, "step": 100}, "scale": {"domain": [-2000, 2000], "nice": false, "zero": false}, "axis": {"orient": "bottom", "offset": 3, "values": [-2000, -1000, 0, 1000, 2000], "tickSize": 7, "labels": false, "title": null}},
       "y": {"field": "n", "type": "quantitative", "stack": "zero", "scale": {"domain": [0, 60], "nice": false}, "axis": {"orient": "left", "offset": 2, "values": [0, 10, 20, 30, 40, 50, 60], "tickSize": {"condition": {"test": "datum.value % 20 == 0", "value": 9}, "value": 5}, "labels": false, "title": null}},
       "color": {"field": "f", "type": "nominal", "scale": {"domain": [0, 2, 4, 6, 8, 10], "range": ["#6B1ED2", "#1E50F5", "#1EF01E", "#FFFF1E", "#FF6419", "#F51919"]}, "legend": null},
       "order": {"field": "f", "type": "quantitative", "sort": "descending"}}},
     {"data": {"values": [{"t": "H"}]}, "mark": {"type": "text", "align": "left", "baseline": "alphabetic", "fontSize": 17},
      "encoding": {"text": {"field": "t"}, "x": {"datum": -1855, "type": "quantitative", "scale": {"domain": [-2000, 2000]}, "axis": null}, "y": {"datum": 58.5, "type": "quantitative", "scale": {"domain": [0, 60]}, "axis": null}}},
     {"data": {"name": "t"}, "transform": [{"filter": "datum.p == 'H'"}], "mark": "bar",
      "encoding": {"x": {"field": "p", "type": "nominal", "scale": {"range": [102, 117], "paddingInner": 0, "paddingOuter": 0.18, "align": 1}, "axis": {"orient": "bottom", "offset": -60, "ticks": false, "labels": false, "title": null}},
       "y": {"field": "n", "type": "quantitative", "stack": "zero", "scale": {"domain": [0, 1000], "range": [58, -3], "nice": false}, "axis": {"orient": "left", "offset": -102, "values": [0, 500, 1000], "tickSize": 9, "labels": false, "title": null}},
       "color": {"field": "f", "type": "nominal", "scale": {"domain": [0, 2, 4, 6, 8, 10], "range": ["#6B1ED2", "#1E50F5", "#1EF01E", "#FFFF1E", "#FF6419", "#F51919"]}, "legend": null},
       "order": {"field": "f", "type": "quantitative", "sort": "descending"}}}
    ],
    "resolve": {"scale": {"x": "independent", "y": "independent"}}},

   {"width": 110, "height": 118,
    "layer": [
     {"data": {"name": "h"}, "transform": [{"filter": "datum.p == 'D'"}], "mark": {"type": "bar", "clip": true},
      "encoding": {"x": {"field": "x", "type": "quantitative", "bin": {"binned": true, "step": 100}, "scale": {"domain": [-2000, 2000], "nice": false, "zero": false}, "axis": {"orient": "bottom", "offset": 3, "values": [-2000, -1000, 0, 1000, 2000], "tickSize": 7, "labels": false, "title": null}},
       "y": {"field": "n", "type": "quantitative", "stack": "zero", "scale": {"domain": [0, 60], "nice": false}, "axis": {"orient": "left", "offset": 2, "values": [0, 10, 20, 30, 40, 50, 60], "tickSize": {"condition": {"test": "datum.value % 20 == 0", "value": 9}, "value": 5}, "labelPadding": 4, "labelExpr": "datum.value % 20 == 0 ? datum.label : ''", "title": null}},
       "color": {"field": "f", "type": "nominal", "scale": {"domain": [0, 2, 4, 6, 8, 10], "range": ["#6B1ED2", "#1E50F5", "#1EF01E", "#FFFF1E", "#FF6419", "#F51919"]}, "legend": null},
       "order": {"field": "f", "type": "quantitative", "sort": "descending"}}},
     {"data": {"values": [{"t": "D"}]}, "mark": {"type": "text", "align": "left", "baseline": "alphabetic", "fontSize": 17},
      "encoding": {"text": {"field": "t"}, "x": {"datum": -1795, "type": "quantitative", "scale": {"domain": [-2000, 2000]}, "axis": null}, "y": {"datum": 58.6, "type": "quantitative", "scale": {"domain": [0, 60]}, "axis": null}}},
     {"data": {"name": "t"}, "transform": [{"filter": "datum.p == 'D'"}], "mark": "bar",
      "encoding": {"x": {"field": "p", "type": "nominal", "scale": {"range": [102, 114], "paddingInner": 0, "paddingOuter": 0.1, "align": 1}, "axis": {"orient": "bottom", "offset": -57, "ticks": false, "labels": false, "title": null}},
       "y": {"field": "n", "type": "quantitative", "stack": "zero", "scale": {"domain": [0, 1000], "range": [61, 7], "nice": false}, "axis": {"orient": "left", "offset": -102, "values": [0, 500, 1000], "tickSize": 9, "labels": false, "title": null}},
       "color": {"field": "f", "type": "nominal", "scale": {"domain": [0, 2, 4, 6, 8, 10], "range": ["#6B1ED2", "#1E50F5", "#1EF01E", "#FFFF1E", "#FF6419", "#F51919"]}, "legend": null},
       "order": {"field": "f", "type": "quantitative", "sort": "descending"}}}
    ],
    "resolve": {"scale": {"x": "independent", "y": "independent"}}},
   {"width": 54, "height": 135, "data": {"values": []}, "mark": "point", "title": {"text": "50%", "fontSize": 15, "offset": 9.3, "anchor": "middle"}},
   {"width": 110, "height": 118,
    "layer": [
     {"data": {"name": "h"}, "transform": [{"filter": "datum.p == 'I'"}], "mark": {"type": "bar", "clip": true},
      "encoding": {"x": {"field": "x", "type": "quantitative", "bin": {"binned": true, "step": 100}, "scale": {"domain": [-2000, 2000], "nice": false, "zero": false}, "axis": {"orient": "bottom", "offset": 3, "values": [-2000, -1000, 0, 1000, 2000], "tickSize": 7, "labels": false, "title": null}},
       "y": {"field": "n", "type": "quantitative", "stack": "zero", "scale": {"domain": [0, 60], "nice": false}, "axis": {"orient": "left", "offset": 2, "values": [0, 10, 20, 30, 40, 50, 60], "tickSize": {"condition": {"test": "datum.value % 20 == 0", "value": 9}, "value": 5}, "labels": false, "title": null}},
       "color": {"field": "f", "type": "nominal", "scale": {"domain": [0, 2, 4, 6, 8, 10], "range": ["#6B1ED2", "#1E50F5", "#1EF01E", "#FFFF1E", "#FF6419", "#F51919"]}, "legend": null},
       "order": {"field": "f", "type": "quantitative", "sort": "descending"}}},
     {"data": {"values": [{"t": "I"}]}, "mark": {"type": "text", "align": "left", "baseline": "alphabetic", "fontSize": 17},
      "encoding": {"text": {"field": "t"}, "x": {"datum": -1855, "type": "quantitative", "scale": {"domain": [-2000, 2000]}, "axis": null}, "y": {"datum": 58.8, "type": "quantitative", "scale": {"domain": [0, 60]}, "axis": null}}},
     {"data": {"name": "t"}, "transform": [{"filter": "datum.p == 'I'"}], "mark": "bar",
      "encoding": {"x": {"field": "p", "type": "nominal", "scale": {"range": [103.3, 117], "paddingInner": 0, "paddingOuter": 0.12, "align": 1}, "axis": {"orient": "bottom", "offset": -57, "ticks": false, "labels": false, "title": null}},
       "y": {"field": "n", "type": "quantitative", "stack": "zero", "scale": {"domain": [0, 1000], "range": [61, 1], "nice": false}, "axis": {"orient": "left", "offset": -103.3, "values": [0, 500, 1000], "tickSize": 9, "labels": false, "title": null}},
       "color": {"field": "f", "type": "nominal", "scale": {"domain": [0, 2, 4, 6, 8, 10], "range": ["#6B1ED2", "#1E50F5", "#1EF01E", "#FFFF1E", "#FF6419", "#F51919"]}, "legend": null},
       "order": {"field": "f", "type": "quantitative", "sort": "descending"}}}
    ],
    "resolve": {"scale": {"x": "independent", "y": "independent"}}},

   {"width": 110, "height": 118,
    "layer": [
     {"data": {"name": "h"}, "transform": [{"filter": "datum.p == 'E'"}], "mark": {"type": "bar", "clip": true},
      "encoding": {"x": {"field": "x", "type": "quantitative", "bin": {"binned": true, "step": 100}, "scale": {"domain": [-2000, 2000], "nice": false, "zero": false}, "axis": {"orient": "bottom", "offset": 3, "values": [-2000, -1000, 0, 1000, 2000], "tickSize": 7, "labels": false, "title": null}},
       "y": {"field": "n", "type": "quantitative", "stack": "zero", "scale": {"domain": [0, 60], "nice": false}, "axis": {"orient": "left", "offset": 2, "values": [0, 10, 20, 30, 40, 50, 60], "tickSize": {"condition": {"test": "datum.value % 20 == 0", "value": 9}, "value": 5}, "labelPadding": 4, "labelExpr": "datum.value % 20 == 0 ? datum.label : ''", "title": null}},
       "color": {"field": "f", "type": "nominal", "scale": {"domain": [0, 2, 4, 6, 8, 10], "range": ["#6B1ED2", "#1E50F5", "#1EF01E", "#FFFF1E", "#FF6419", "#F51919"]}, "legend": null},
       "order": {"field": "f", "type": "quantitative", "sort": "descending"}}},
     {"data": {"values": [{"t": "E"}]}, "mark": {"type": "text", "align": "left", "baseline": "alphabetic", "fontSize": 17},
      "encoding": {"text": {"field": "t"}, "x": {"datum": -1808, "type": "quantitative", "scale": {"domain": [-2000, 2000]}, "axis": null}, "y": {"datum": 57.5, "type": "quantitative", "scale": {"domain": [0, 60]}, "axis": null}}},
     {"data": {"name": "t"}, "transform": [{"filter": "datum.p == 'E'"}], "mark": "bar",
      "encoding": {"x": {"field": "p", "type": "nominal", "scale": {"range": [101, 117], "paddingInner": 0, "paddingOuter": 0.167, "align": 1}, "axis": {"orient": "bottom", "offset": -49, "ticks": false, "labels": false, "title": null}},
       "y": {"field": "n", "type": "quantitative", "stack": "zero", "scale": {"domain": [0, 1000], "range": [69, 11], "nice": false}, "axis": {"orient": "left", "offset": -101, "values": [0, 500, 1000], "tickSize": 9, "labels": false, "title": null}},
       "color": {"field": "f", "type": "nominal", "scale": {"domain": [0, 2, 4, 6, 8, 10], "range": ["#6B1ED2", "#1E50F5", "#1EF01E", "#FFFF1E", "#FF6419", "#F51919"]}, "legend": null},
       "order": {"field": "f", "type": "quantitative", "sort": "descending"}}}
    ],
    "resolve": {"scale": {"x": "independent", "y": "independent"}}},
   {"width": 54, "height": 132.7, "data": {"values": []}, "mark": "point", "title": {"text": "70%", "fontSize": 15, "offset": 2, "anchor": "middle"}},
   {"width": 110, "height": 118,
    "layer": [
     {"data": {"name": "h"}, "transform": [{"filter": "datum.p == 'J'"}], "mark": {"type": "bar", "clip": true},
      "encoding": {"x": {"field": "x", "type": "quantitative", "bin": {"binned": true, "step": 100}, "scale": {"domain": [-2000, 2000], "nice": false, "zero": false}, "axis": {"orient": "bottom", "offset": 3, "values": [-2000, -1000, 0, 1000, 2000], "tickSize": 7, "labels": false, "title": null}},
       "y": {"field": "n", "type": "quantitative", "stack": "zero", "scale": {"domain": [0, 60], "nice": false}, "axis": {"orient": "left", "offset": 2, "values": [0, 10, 20, 30, 40, 50, 60], "tickSize": {"condition": {"test": "datum.value % 20 == 0", "value": 9}, "value": 5}, "labels": false, "title": null}},
       "color": {"field": "f", "type": "nominal", "scale": {"domain": [0, 2, 4, 6, 8, 10], "range": ["#6B1ED2", "#1E50F5", "#1EF01E", "#FFFF1E", "#FF6419", "#F51919"]}, "legend": null},
       "order": {"field": "f", "type": "quantitative", "sort": "descending"}}},
     {"data": {"values": [{"t": "J"}]}, "mark": {"type": "text", "align": "left", "baseline": "alphabetic", "fontSize": 17},
      "encoding": {"text": {"field": "t"}, "x": {"datum": -1820, "type": "quantitative", "scale": {"domain": [-2000, 2000]}, "axis": null}, "y": {"datum": 58.5, "type": "quantitative", "scale": {"domain": [0, 60]}, "axis": null}}},
     {"data": {"name": "t"}, "transform": [{"filter": "datum.p == 'J'"}], "mark": "bar",
      "encoding": {"x": {"field": "p", "type": "nominal", "scale": {"range": [101.6, 120], "paddingInner": 0, "paddingOuter": 0.21, "align": 1}, "axis": {"orient": "bottom", "offset": -52, "ticks": false, "labels": false, "title": null}},
       "y": {"field": "n", "type": "quantitative", "stack": "zero", "scale": {"domain": [0, 1000], "range": [66, 5], "nice": false}, "axis": {"orient": "left", "offset": -101.6, "values": [0, 500, 1000], "tickSize": 9, "labels": false, "title": null}},
       "color": {"field": "f", "type": "nominal", "scale": {"domain": [0, 2, 4, 6, 8, 10], "range": ["#6B1ED2", "#1E50F5", "#1EF01E", "#FFFF1E", "#FF6419", "#F51919"]}, "legend": null},
       "order": {"field": "f", "type": "quantitative", "sort": "descending"}}}
    ],
    "resolve": {"scale": {"x": "independent", "y": "independent"}}},

   {"width": 110, "height": 118,
    "layer": [
     {"data": {"name": "h"}, "transform": [{"filter": "datum.p == 'F'"}], "mark": {"type": "bar", "clip": true},
      "encoding": {"x": {"field": "x", "type": "quantitative", "bin": {"binned": true, "step": 100}, "scale": {"domain": [-2000, 2000], "nice": false, "zero": false}, "axis": {"orient": "bottom", "offset": 3, "values": [-2000, -1000, 0, 1000, 2000], "tickSize": 7, "labelPadding": 8, "labelExpr": "datum.value % 2000 == 0 ? '' + datum.value : ''", "title": "Position (µm)", "titlePadding": 3}},
       "y": {"field": "n", "type": "quantitative", "stack": "zero", "scale": {"domain": [0, 60], "nice": false}, "axis": {"orient": "left", "offset": 2, "values": [0, 10, 20, 30, 40, 50, 60], "tickSize": {"condition": {"test": "datum.value % 20 == 0", "value": 9}, "value": 5}, "labelPadding": 4, "labelExpr": "datum.value % 20 == 0 ? datum.label : ''", "title": null}},
       "color": {"field": "f", "type": "nominal", "scale": {"domain": [0, 2, 4, 6, 8, 10], "range": ["#6B1ED2", "#1E50F5", "#1EF01E", "#FFFF1E", "#FF6419", "#F51919"]}, "legend": null},
       "order": {"field": "f", "type": "quantitative", "sort": "descending"}}},
     {"data": {"values": [{"t": "F"}]}, "mark": {"type": "text", "align": "left", "baseline": "alphabetic", "fontSize": 17},
      "encoding": {"text": {"field": "t"}, "x": {"datum": -1783, "type": "quantitative", "scale": {"domain": [-2000, 2000]}, "axis": null}, "y": {"datum": 54.6, "type": "quantitative", "scale": {"domain": [0, 60]}, "axis": null}}},
     {"data": {"name": "t"}, "transform": [{"filter": "datum.p == 'F'"}], "mark": "bar",
      "encoding": {"x": {"field": "p", "type": "nominal", "scale": {"range": [99.4, 114], "paddingInner": 0, "paddingOuter": 0.16, "align": 1}, "axis": {"orient": "bottom", "offset": -42, "ticks": false, "labels": false, "title": null}},
       "y": {"field": "n", "type": "quantitative", "stack": "zero", "scale": {"domain": [0, 1000], "range": [76, 17], "nice": false}, "axis": {"orient": "left", "offset": -99.4, "values": [0, 500, 1000], "tickSize": 9, "labels": false, "title": null}},
       "color": {"field": "f", "type": "nominal", "scale": {"domain": [0, 2, 4, 6, 8, 10], "range": ["#6B1ED2", "#1E50F5", "#1EF01E", "#FFFF1E", "#FF6419", "#F51919"]}, "legend": null},
       "order": {"field": "f", "type": "quantitative", "sort": "descending"}}}
    ],
    "resolve": {"scale": {"x": "independent", "y": "independent"}}},
   {"width": 54, "height": 118, "data": {"values": []}, "mark": "point", "title": {"text": "90%", "fontSize": 15, "offset": 2.3, "anchor": "middle"}},
   {"width": 110, "height": 118,
    "layer": [
     {"data": {"name": "h"}, "transform": [{"filter": "datum.p == 'K'"}], "mark": {"type": "bar", "clip": true},
      "encoding": {"x": {"field": "x", "type": "quantitative", "bin": {"binned": true, "step": 100}, "scale": {"domain": [-2000, 2000], "nice": false, "zero": false}, "axis": {"orient": "bottom", "offset": 3, "values": [-2000, -1000, 0, 1000, 2000], "tickSize": 7, "labelPadding": 8, "labelExpr": "datum.value % 2000 == 0 ? '' + datum.value : ''", "title": "Position (µm)", "titlePadding": 3}},
       "y": {"field": "n", "type": "quantitative", "stack": "zero", "scale": {"domain": [0, 60], "nice": false}, "axis": {"orient": "left", "offset": 2, "values": [0, 10, 20, 30, 40, 50, 60], "tickSize": {"condition": {"test": "datum.value % 20 == 0", "value": 9}, "value": 5}, "labels": false, "title": null}},
       "color": {"field": "f", "type": "nominal", "scale": {"domain": [0, 2, 4, 6, 8, 10], "range": ["#6B1ED2", "#1E50F5", "#1EF01E", "#FFFF1E", "#FF6419", "#F51919"]}, "legend": null},
       "order": {"field": "f", "type": "quantitative", "sort": "descending"}}},
     {"data": {"values": [{"t": "K"}]}, "mark": {"type": "text", "align": "left", "baseline": "alphabetic", "fontSize": 17},
      "encoding": {"text": {"field": "t"}, "x": {"datum": -1855, "type": "quantitative", "scale": {"domain": [-2000, 2000]}, "axis": null}, "y": {"datum": 54.4, "type": "quantitative", "scale": {"domain": [0, 60]}, "axis": null}}},
     {"data": {"name": "t"}, "transform": [{"filter": "datum.p == 'K'"}], "mark": "bar",
      "encoding": {"x": {"field": "p", "type": "nominal", "scale": {"range": [103, 121], "paddingInner": 0, "paddingOuter": 0.19, "align": 1}, "axis": {"orient": "bottom", "offset": -41, "ticks": false, "labels": false, "title": null}},
       "y": {"field": "n", "type": "quantitative", "stack": "zero", "scale": {"domain": [0, 1000], "range": [77, 16], "nice": false}, "axis": {"orient": "left", "offset": -103, "values": [0, 500, 1000], "tickSize": 9, "labels": false, "title": null}},
       "color": {"field": "f", "type": "nominal", "scale": {"domain": [0, 2, 4, 6, 8, 10], "range": ["#6B1ED2", "#1E50F5", "#1EF01E", "#FFFF1E", "#FF6419", "#F51919"]}, "legend": null},
       "order": {"field": "f", "type": "quantitative", "sort": "descending"}}}
    ],
    "resolve": {"scale": {"x": "independent", "y": "independent"}}}
  ]}
]
}
